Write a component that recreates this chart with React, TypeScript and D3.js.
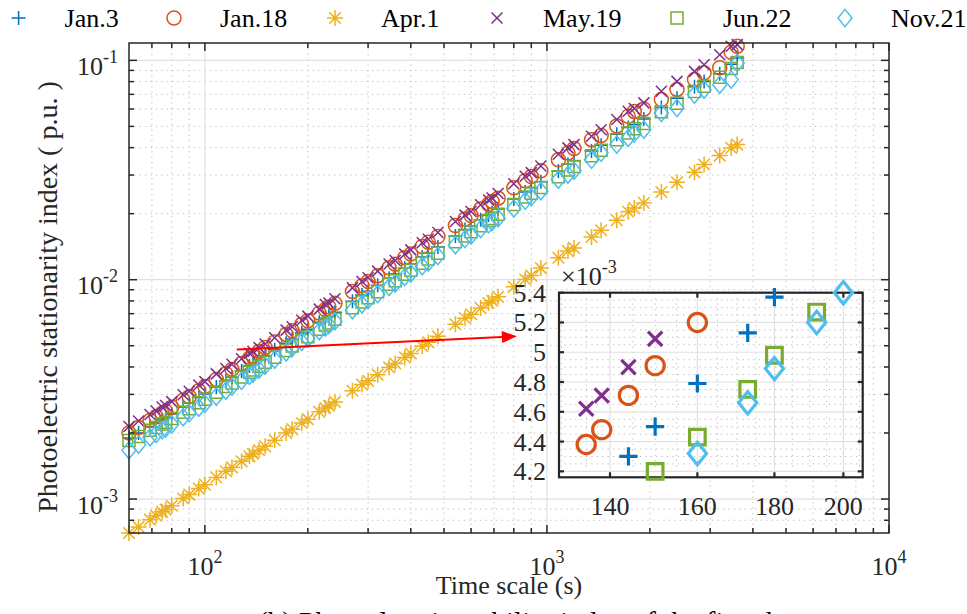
import React from 'react';
import * as d3 from 'd3';

// Time scales (s) shared by every day
const timeScale = [60, 64, 69.12, 72, 75, 76.8, 80, 86.4, 90, 96, 100, 108, 115.2, 120, 128, 135, 138.24, 144, 150, 160, 172.8, 180, 192, 200, 216, 225, 230.4, 240, 270, 288, 300, 320, 345.6, 360, 384, 400, 432, 450, 480, 540, 576, 600, 640, 675, 691.2, 720, 800, 864, 900, 960, 1080, 1152, 1200, 1350, 1440, 1600, 1728, 1800, 1920, 2160, 2400, 2700, 2880, 3200, 3456, 3600];

// Photoelectric stationarity index (p.u.) per day
const jan3 = [0.00190, 0.00200, 0.00214, 0.00222, 0.00230, 0.00235, 0.00244, 0.00263, 0.00273, 0.00290, 0.00301, 0.00324, 0.00346, 0.00359, 0.00383, 0.00404, 0.00412, 0.00430, 0.00450, 0.00479, 0.00513, 0.00537, 0.00572, 0.00594, 0.00639, 0.00668, 0.00682, 0.00710, 0.00797, 0.00852, 0.00885, 0.00944, 0.01016, 0.01062, 0.01129, 0.01180, 0.01270, 0.01319, 0.01411, 0.01582, 0.01693, 0.01758, 0.01875, 0.01971, 0.02025, 0.02102, 0.02336, 0.02514, 0.02628, 0.02794, 0.0313, 0.0336, 0.0349, 0.0386, 0.0410, 0.0461, 0.0494, 0.0509, 0.0541, 0.0609, 0.0672, 0.0759, 0.0801, 0.0870, 0.0961, 0.1026];
const jan18 = [0.00200, 0.00212, 0.00228, 0.00237, 0.00246, 0.00251, 0.00262, 0.00282, 0.00293, 0.00312, 0.00326, 0.00351, 0.00373, 0.00390, 0.00415, 0.00438, 0.00448, 0.00471, 0.00491, 0.00520, 0.00563, 0.00585, 0.00626, 0.00650, 0.00704, 0.00731, 0.00751, 0.00780, 0.00883, 0.00939, 0.00981, 0.01043, 0.01134, 0.01177, 0.01260, 0.01308, 0.01417, 0.01481, 0.01574, 0.01766, 0.01889, 0.01962, 0.02099, 0.02207, 0.02274, 0.02354, 0.02624, 0.02825, 0.02952, 0.03139, 0.0352, 0.0378, 0.0396, 0.0435, 0.0454, 0.0502, 0.0556, 0.0585, 0.0599, 0.0663, 0.0737, 0.0818, 0.0878, 0.0925, 0.1089, 0.1160];
const apr1 = [0.000700, 0.000746, 0.000805, 0.000840, 0.000874, 0.000894, 0.000932, 0.001006, 0.001048, 0.001116, 0.001163, 0.001255, 0.001339, 0.001393, 0.001486, 0.001566, 0.001604, 0.001669, 0.001739, 0.001853, 0.002001, 0.002083, 0.002221, 0.002312, 0.002497, 0.002601, 0.002661, 0.002772, 0.003116, 0.003324, 0.003459, 0.003690, 0.003981, 0.004147, 0.004424, 0.004604, 0.004972, 0.005180, 0.005520, 0.006260, 0.006680, 0.006960, 0.007420, 0.007830, 0.008020, 0.008350, 0.009280, 0.01002, 0.01044, 0.01130, 0.01259, 0.01350, 0.01396, 0.01566, 0.01680, 0.01866, 0.02040, 0.02120, 0.02240, 0.02510, 0.02780, 0.03090, 0.03350, 0.03680, 0.03990, 0.04130];
const may19 = [0.00214, 0.00227, 0.00243, 0.00252, 0.00263, 0.00267, 0.00278, 0.00299, 0.00310, 0.00331, 0.00343, 0.00372, 0.00394, 0.00412, 0.00436, 0.00462, 0.00471, 0.00490, 0.00509, 0.00544, 0.00589, 0.00610, 0.00653, 0.00682, 0.00734, 0.00770, 0.00783, 0.00818, 0.00918, 0.00982, 0.01020, 0.01094, 0.01178, 0.01224, 0.01309, 0.01368, 0.01473, 0.01530, 0.01642, 0.01841, 0.01970, 0.02046, 0.02195, 0.02309, 0.02357, 0.02470, 0.02736, 0.02964, 0.03078, 0.03302, 0.0373, 0.0399, 0.0413, 0.0451, 0.0483, 0.0537, 0.0586, 0.0603, 0.0640, 0.0723, 0.0802, 0.0891, 0.0955, 0.1060, 0.1160, 0.1180];
const jun22 = [0.00185, 0.00193, 0.00206, 0.00212, 0.00220, 0.00224, 0.00233, 0.00249, 0.00258, 0.00275, 0.00285, 0.00307, 0.00326, 0.00338, 0.00360, 0.00378, 0.00387, 0.00403, 0.00420, 0.00443, 0.00475, 0.00498, 0.00527, 0.00550, 0.00594, 0.00621, 0.00634, 0.00660, 0.00745, 0.00792, 0.00828, 0.00880, 0.00954, 0.00990, 0.01060, 0.01104, 0.01188, 0.01242, 0.01320, 0.01490, 0.01584, 0.01656, 0.01760, 0.01863, 0.01901, 0.01987, 0.02200, 0.02385, 0.02475, 0.02630, 0.0295, 0.0316, 0.0328, 0.0367, 0.0389, 0.0435, 0.0467, 0.0488, 0.0515, 0.0583, 0.0638, 0.0721, 0.0763, 0.0838, 0.0919, 0.0979];
const nov21 = [0.00167, 0.00177, 0.00191, 0.00198, 0.00206, 0.00210, 0.00219, 0.00236, 0.00246, 0.00261, 0.00272, 0.00293, 0.00312, 0.00325, 0.00346, 0.00365, 0.00373, 0.00389, 0.00405, 0.00432, 0.00466, 0.00489, 0.00520, 0.00540, 0.00583, 0.00605, 0.00622, 0.00646, 0.00726, 0.00772, 0.00807, 0.00858, 0.00926, 0.00961, 0.01029, 0.01068, 0.01153, 0.01197, 0.01282, 0.01436, 0.01532, 0.01590, 0.01702, 0.01789, 0.01832, 0.01908, 0.02112, 0.02290, 0.02376, 0.02534, 0.0286, 0.0301, 0.0314, 0.0352, 0.0379, 0.0413, 0.0443, 0.0464, 0.0483, 0.0575, 0.0606, 0.0698, 0.0735, 0.0775, 0.0817, 0.0973];

const seriesNames = ['Jan.3', 'Jan.18', 'Apr.1', 'May.19', 'Jun.22', 'Nov.21'];
const seriesValues = [jan3, jan18, apr1, may19, jun22, nov21];

// Axis ticks
const xMajorTicks = [100, 1000, 10000];
const xTickExponents = ['2', '3', '4'];
const yMajorTicks = [1e-3, 1e-2, 1e-1];
const yTickExponents = ['-3', '-2', '-1'];
const insetXTicks = [140, 160, 180, 200];
const insetYTicks = [4.2, 4.4, 4.6, 4.8, 5.0, 5.2, 5.4];

// Arrow pointing from the main curves to the zoomed view (data coordinates)
const arrowFrom = [124, 0.0048];
const arrowTo = [817, 0.00552];

const COLORS = ['#0072BD', '#D95319', '#EDB120', '#7E2F8E', '#77AC30', '#4DBEEE'];
const MARKERS = ['plus', 'circle', 'asterisk', 'cross', 'square', 'diamond'];
const FONT = 'Liberation Serif, Times New Roman, DejaVu Serif, serif';
const AXIS = '#262626';

const W = 967;
const H = 614;
const plot = { left: 129, right: 889, top: 43, bottom: 533 };
const inset = { left: 559, right: 862.7, top: 292.7, bottom: 477.3 };

type MarkerProps = { type: string; x: number; y: number; k: number; color: string; sw: number };

function Marker({ type, x, y, k, color, sw }: MarkerProps) {
  if (type === 'circle') {
    return <circle cx={x} cy={y} r={7 * k} fill="none" stroke={color} strokeWidth={sw} />;
  }
  let d = '';
  if (type === 'plus') {
    const h = 7 * k;
    d = `M${x - h},${y}H${x + h}M${x},${y - h}V${y + h}`;
  } else if (type === 'cross') {
    const c = 5.5 * k;
    d = `M${x - c},${y - c}L${x + c},${y + c}M${x - c},${y + c}L${x + c},${y - c}`;
  } else if (type === 'asterisk') {
    const h = 8 * k;
    const c = 5.8 * k;
    d = `M${x - h},${y}H${x + h}M${x},${y - h}V${y + h}M${x - c},${y - c}L${x + c},${y + c}M${x - c},${y + c}L${x + c},${y - c}`;
  } else if (type === 'square') {
    const a = 6 * k;
    d = `M${x - a},${y - a}H${x + a}V${y + a}H${x - a}Z`;
  } else if (type === 'diamond') {
    const w = 7 * k;
    const v = 8.6 * k;
    d = `M${x},${y - v}L${x + w},${y}L${x},${y + v}L${x - w},${y}Z`;
  }
  return <path d={d} fill="none" stroke={color} strokeWidth={sw} strokeLinejoin="miter" />;
}

function minorLogTicks(lo: number, hi: number): number[] {
  const out: number[] = [];
  for (let e = -5; e <= 5; e++) {
    for (let m = 2; m <= 9; m++) {
      const v = m * Math.pow(10, e);
      if (v > lo * 1.0001 && v < hi * 0.9999) out.push(v);
    }
  }
  return out;
}

export default function App() {
  const x = d3.scaleLog().domain([60, 10000]).range([plot.left, plot.right]);
  const y = d3.scaleLog().domain([7e-4, 0.12]).range([plot.bottom, plot.top]);

  const ix = d3.scaleLog().domain([129.5, 206]).range([inset.left, inset.right]);
  const iy = d3.scaleLinear().domain([4.16, 5.4]).range([inset.bottom, inset.top]);

  const xMinor = minorLogTicks(60, 10000);
  const yMinor = minorLogTicks(7e-4, 0.12);
  const ixMinor = d3.range(130, 206, 5).filter((v) => !insetXTicks.includes(v));
  const iyMinor = d3.range(4.2, 5.4, 0.05).map((v) => +v.toFixed(2)).filter((v) => !insetYTicks.some((t) => Math.abs(t - v) < 1e-6));

  const majorGrid = '#e1e1e1';
  const minorGrid = '#b9b9b9';
  const dots = '1.2 4.2';

  const legendMarkerX = [18.6, 174, 335, 497, 677, 845];
  const legendY = 18;

  const [ax0, ay0] = [x(arrowFrom[0]), y(arrowFrom[1])];
  const [ax1, ay1] = [x(arrowTo[0]), y(arrowTo[1])];
  const ang = Math.atan2(ay1 - ay0, ax1 - ax0);
  const headLen = 15;
  const headHalf = 6;
  const bx = ax1 - headLen * Math.cos(ang);
  const by = ay1 - headLen * Math.sin(ang);
  const head = `M${ax1},${ay1}L${bx - headHalf * Math.sin(ang)},${by + headHalf * Math.cos(ang)}L${bx + headHalf * Math.sin(ang)},${by - headHalf * Math.cos(ang)}Z`;

  const txt = { fontFamily: FONT };

  return (
    <svg width={W} height={H} style={{ position: 'absolute', left: 0, top: 0, background: '#fff', fontFamily: FONT }}>
      <rect x={0} y={0} width={W} height={H} fill="#fff" />

      {/* main grid */}
      <g>
        {xMinor.map((v) => (
          <line key={'xm' + v} x1={x(v)} x2={x(v)} y1={plot.top} y2={plot.bottom} stroke={minorGrid} strokeDasharray={dots} strokeWidth={1} />
        ))}
        {yMinor.map((v) => (
          <line key={'ym' + v} y1={y(v)} y2={y(v)} x1={plot.left} x2={plot.right} stroke={minorGrid} strokeDasharray={dots} strokeWidth={1} />
        ))}
        {xMajorTicks.map((v) => (
          <line key={'xg' + v} x1={x(v)} x2={x(v)} y1={plot.top} y2={plot.bottom} stroke={majorGrid} strokeWidth={1.2} />
        ))}
        {yMajorTicks.map((v) => (
          <line key={'yg' + v} y1={y(v)} y2={y(v)} x1={plot.left} x2={plot.right} stroke={majorGrid} strokeWidth={1.2} />
        ))}
      </g>

      {/* main series */}
      <g>
        {seriesValues.map((vals, si) => (
          <g key={seriesNames[si]}>
            {vals.map((v, i) => (
              <Marker key={i} type={MARKERS[si]} x={x(timeScale[i])} y={y(v)} k={1} color={COLORS[si]} sw={1.5} />
            ))}
          </g>
        ))}
      </g>

      {/* main axes box and ticks */}
      <g stroke={AXIS} strokeWidth={1.5} fill="none">
        <rect x={plot.left} y={plot.top} width={plot.right - plot.left} height={plot.bottom - plot.top} />
        {xMajorTicks.map((v) => (
          <g key={'xt' + v}>
            <line x1={x(v)} x2={x(v)} y1={plot.bottom} y2={plot.bottom - 8} />
            <line x1={x(v)} x2={x(v)} y1={plot.top} y2={plot.top + 8} />
          </g>
        ))}
        {xMinor.map((v) => (
          <g key={'xmt' + v}>
            <line x1={x(v)} x2={x(v)} y1={plot.bottom} y2={plot.bottom - 5} />
            <line x1={x(v)} x2={x(v)} y1={plot.top} y2={plot.top + 5} />
          </g>
        ))}
        {yMajorTicks.map((v) => (
          <g key={'yt' + v}>
            <line y1={y(v)} y2={y(v)} x1={plot.left} x2={plot.left + 8} />
            <line y1={y(v)} y2={y(v)} x1={plot.right} x2={plot.right - 8} />
          </g>
        ))}
        {yMinor.map((v) => (
          <g key={'ymt' + v}>
            <line y1={y(v)} y2={y(v)} x1={plot.left} x2={plot.left + 5} />
            <line y1={y(v)} y2={y(v)} x1={plot.right} x2={plot.right - 5} />
          </g>
        ))}
      </g>

      {/* main tick labels */}
      <g fill={AXIS} fontSize={26} style={txt}>
        {xMajorTicks.map((v, i) => (
          <text key={'xl' + v} x={x(v)} y={plot.bottom + 42} textAnchor="middle" style={txt}>
            10<tspan fontSize={18} dy={-12}>{xTickExponents[i]}</tspan>
          </text>
        ))}
        {yMajorTicks.map((v, i) => (
          <text key={'yl' + v} x={118} y={y(v) + 14.5} textAnchor="end" style={txt}>
            10<tspan fontSize={18} dy={-12}>{yTickExponents[i]}</tspan>
          </text>
        ))}
      </g>

      {/* axis titles */}
      <text x={(plot.left + plot.right) / 2} y={594} textAnchor="middle" fontSize={26} fill={AXIS} style={txt}>
        Time scale (s)
      </text>
      <text transform={`translate(57,297) rotate(-90)`} textAnchor="middle" fontSize={28} fill={AXIS} style={txt}>
        Photoelectric stationarity index ( p.u. )
      </text>

      {/* arrow */}
      <line x1={ax0} y1={ay0} x2={bx} y2={by} stroke="#ff0000" strokeWidth={2} />
      <path d={head} fill="#ff0000" />

      {/* inset */}
      <g>
        <rect x={inset.left} y={inset.top} width={inset.right - inset.left} height={inset.bottom - inset.top} fill="#fff" />
        {ixMinor.map((v) => (
          <line key={'ixm' + v} x1={ix(v)} x2={ix(v)} y1={inset.top} y2={inset.bottom} stroke={minorGrid} strokeDasharray={dots} strokeWidth={1} />
        ))}
        {iyMinor.map((v) => (
          <line key={'iym' + v} y1={iy(v)} y2={iy(v)} x1={inset.left} x2={inset.right} stroke={minorGrid} strokeDasharray={dots} strokeWidth={1} />
        ))}
        {insetXTicks.map((v) => (
          <line key={'ixg' + v} x1={ix(v)} x2={ix(v)} y1={inset.top} y2={inset.bottom} stroke={majorGrid} strokeWidth={1.2} />
        ))}
        {insetYTicks.map((v) => (
          <line key={'iyg' + v} y1={iy(v)} y2={iy(v)} x1={inset.left} x2={inset.right} stroke={majorGrid} strokeWidth={1.2} />
        ))}
        <g stroke={AXIS} strokeWidth={2.2} fill="none">
          <rect x={inset.left} y={inset.top} width={inset.right - inset.left} height={inset.bottom - inset.top} />
          {insetXTicks.map((v) => (
            <g key={'ixt' + v}>
              <line x1={ix(v)} x2={ix(v)} y1={inset.bottom} y2={inset.bottom - 5} />
              <line x1={ix(v)} x2={ix(v)} y1={inset.top} y2={inset.top + 5} />
            </g>
          ))}
          {insetYTicks.map((v) => (
            <g key={'iyt' + v}>
              <line y1={iy(v)} y2={iy(v)} x1={inset.left} x2={inset.left + 5} />
              <line y1={iy(v)} y2={iy(v)} x1={inset.right} x2={inset.right - 5} />
            </g>
          ))}
        </g>
        {seriesValues.map((vals, si) => (
          <g key={'in' + seriesNames[si]}>
            {vals.map((v, i) => {
              const t = timeScale[i];
              const m = v * 1000;
              if (t < 129.5 || t > 206 || m < 4.15 || m > 5.415) return null;
              return <Marker key={i} type={MARKERS[si]} x={ix(t)} y={iy(m)} k={1.3} color={COLORS[si]} sw={3.2} />;
            })}
          </g>
        ))}
        <g fill={AXIS} fontSize={26} style={txt}>
          {insetXTicks.map((v) => (
            <text key={'ixl' + v} x={ix(v)} y={515} textAnchor="middle" style={txt}>{v}</text>
          ))}
          {insetYTicks.map((v) => (
            <text key={'iyl' + v} x={546} y={iy(v) + 9} textAnchor="end" style={txt}>{d3.format('~g')(v)}</text>
          ))}
          <text x={561} y={285} style={txt}>
            ×10<tspan fontSize={18} dy={-12}>-3</tspan>
          </text>
        </g>
      </g>

      {/* legend */}
      <g fontSize={26} fill="#000" style={txt}>
        {seriesNames.map((name, si) => (
          <g key={'lg' + name}>
            <Marker type={MARKERS[si]} x={legendMarkerX[si]} y={legendY} k={1} color={COLORS[si]} sw={1.5} />
            <text x={legendMarkerX[si] + 46} y={legendY + 9} style={txt}>{name}</text>
          </g>
        ))}
      </g>

      {/* figure caption, cut at the lower border */}
      <text x={258} y={632} fontSize={29} fill="#000" style={txt}>
        (b) Photoelectric stability index of the five days
      </text>
    </svg>
  );
}
